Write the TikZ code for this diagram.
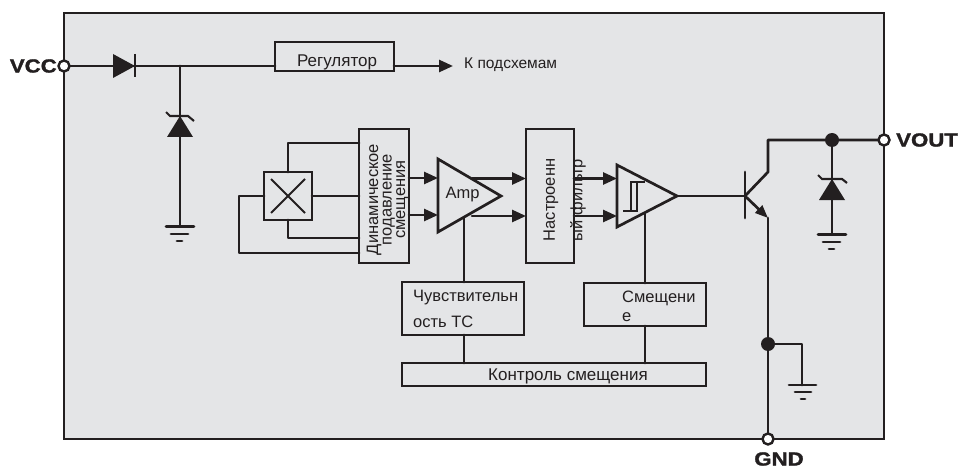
\documentclass[tikz,border=0pt]{standalone}
\usepackage{fontspec}
\setmainfont{Liberation Sans}
\newfontfamily\pinfont{Liberation Sans}[UprightFont=* Bold,FakeBold=1.5,FakeStretch=1.17]
\usetikzlibrary{arrows.meta}
\definecolor{ink}{HTML}{231F20}
\definecolor{panel}{HTML}{E4E5E7}
\tikzset{
  x=1pt,y=-1pt,
  wire/.style={draw=ink,line width=2.7pt,line cap=round,line join=round},
  thinwire/.style={draw=ink,line width=2.1pt},
  arrowwire/.style={wire,-{Triangle[length=14pt,width=12pt,fill=ink]}},
  blockbox/.style={draw=ink,line width=2.7pt,inner sep=0pt,outer sep=0pt,anchor=north west,align=left},
  lab/.style={font=\fontsize{16.5}{17}\selectfont,text=ink,inner sep=0pt},
  pin/.style={font=\fontsize{19}{19}\selectfont\pinfont,text=ink,inner sep=0pt},
  term/.style={circle,draw=ink,fill=white,line width=2.4pt,minimum size=11pt,inner sep=0pt},
  junction/.style={circle,fill=ink,minimum size=14pt,inner sep=0pt},
  solid tri/.style={fill=ink,draw=none},
}
\begin{document}
\begin{tikzpicture}
\useasboundingbox (0,0) rectangle (958,468);
\fill[white] (0,0) rectangle (958,468);
\draw[fill=panel,draw=ink,line width=2.8pt] (64,13) rectangle (884,439);

% blocks
\node[blockbox,minimum width=119pt,minimum height=29pt] (reg) at (275,42) {};
\node[blockbox,minimum width=48pt,minimum height=48pt] (hall) at (264,172) {};
\node[blockbox,minimum width=50pt,minimum height=134pt] (dyn) at (359,129) {};
\node[blockbox,minimum width=48pt,minimum height=134pt] (filt) at (526,129) {};
\node[blockbox,minimum width=122pt,minimum height=53pt] (tc) at (402,282) {};
\node[blockbox,minimum width=122pt,minimum height=43pt] (bias) at (584,283) {};
\node[blockbox,minimum width=304pt,minimum height=23pt] (ctl) at (402,363) {};

% block texts
\node[lab,font=\fontsize{17}{17}\selectfont] (regt) at (337,62) {Регулятор};
\node[lab,anchor=west,font=\fontsize{15.5}{17}\selectfont] (subt) at (464,65) {К подсхемам};
\node[lab,rotate=90,align=center,font=\fontsize{16.5}{13.5}\selectfont] (dynt) at (387.5,199.5) {Динамическое\\подавление\\смещения};
\node[lab,rotate=90] (filt1) at (551,200) {Настроенн};
\node[lab,rotate=90] (filt2) at (578,200) {ый фильтр};
\node[lab,anchor=west] (tc1) at (413,298) {Чувствительн};
\node[lab,anchor=west] (tc2) at (413,322) {ость ТС};
\node[lab,anchor=west] (bias1) at (622,298) {Смещени};
\node[lab,anchor=west] (bias2) at (622,317) {е};
\node[lab,font=\fontsize{17}{17}\selectfont] (ctlt) at (568,376) {Контроль смещения};

% terminals
\coordinate (vccp) at (64,66);
\coordinate (voutp) at (884,140);
\coordinate (gndp) at (768,439);
\node[pin,anchor=east] (vcct) at (57,66) {VCC};
\node[pin,anchor=west] (voutt) at (896,140) {VOUT};
\node[pin] (gndt) at (779,459) {GND};

% cross (Hall element)
\draw[thinwire] (hall.center) ++(-17,-17) -- ++(34,34) ++(0,-34) -- ++(-34,34);

% input rail
\coordinate (j1) at (180,66);
\coordinate (g1) at (180,226);
\draw[wire] (vccp) -- (reg.west |- vccp);
\fill[solid tri] (113,54) -- (113,78) -- (135,66) -- cycle;
\draw[thinwire] (135,54) -- (135,77);
\coordinate (out) at (453,66);
\draw[arrowwire] (reg.east |- vccp) -- (out);

% zener 1
\draw[wire] (j1) -- (g1);
\fill[solid tri] (167,137) -- (193,137) -- (180,116) -- cycle;
\draw[thinwire] (166,112) -- (170,116) -- (188,116) -- (194,121);
% ground 1
\draw[wire] (166,226.5) -- (194,226.5);
\draw[wire] (171,234) -- (188,234);
\draw[wire] (177,241) -- (182,241);

% hall wiring
\draw[wire] (288,172) |- (dyn.west |- 0,143);
\draw[wire] (hall.east) -- (dyn.west |- hall.east);
\draw[wire] (288,220) |- (dyn.west |- 0,238);
\draw[wire] (hall.west) -- (239,196) |- (dyn.west |- 0,253);

% amp
\coordinate (ampA) at (438,159);
\coordinate (ampB) at (438,232);
\coordinate (ampO) at (501,196);
\draw[draw=ink,line width=2.7pt,line join=miter] (ampA) -- (ampB) -- (ampO) -- cycle;
\node[lab] (ampt) at (462.5,195) {Amp};
\draw[arrowwire] (dyn.east |- 0,178) -- (ampA |- 0,178);
\draw[arrowwire] (dyn.east |- 0,215) -- (ampA |- 0,215);
\draw[arrowwire] (472,178.5) -- (filt.west |- 0,178.5);
\draw[arrowwire] (472,216) -- (filt.west |- 0,216);

% comparator
\coordinate (cmpA) at (617,165);
\coordinate (cmpB) at (617,227);
\coordinate (cmpO) at (677,196);
\draw[draw=ink,line width=2.7pt,line join=miter] (cmpA) -- (cmpB) -- (cmpO) -- cycle;
\draw[arrowwire] (filt.east |- 0,178.5) -- (cmpA |- 0,178.5);
\draw[arrowwire] (filt.east |- 0,216) -- (cmpA |- 0,216);
\draw[draw=ink,line width=1.6pt] (623,211) -- (637,211) -- (637,182) -- (645,182);
\draw[draw=ink,line width=1.6pt] (631,211) -- (631,182) -- (645,182);

% links to lower blocks
\draw[wire] (464,218) -- (464,282);
\draw[wire] (tc.south -| 464,0) -- (ctl.north -| 464,0);
\draw[wire] (645,213) -- (645,283);
\draw[wire] (bias.south -| 645,0) -- (ctl.north -| 645,0);

% transistor
\coordinate (tb) at (745,196);
\coordinate (tc0) at (768,172);
\coordinate (te) at (768,218);
\draw[wire] (cmpO) -- (tb);
\draw[wire] (745,172) -- (745,218);
\draw[wire] (tb) -- (tc0) -- (768,140) -- (voutp);
\draw[wire,-{Triangle[length=13pt,width=10pt,fill=ink]}] (tb) -- (te);
\draw[wire] (te) -- (gndp);

% zener 2
\coordinate (j2) at (832,140);
\draw[wire] (j2) -- (832,234);
\fill[solid tri] (819,200) -- (845,200) -- (832,179) -- cycle;
\draw[thinwire] (818,175) -- (822,179) -- (842,179) -- (847,183);
\draw[wire] (818,234.5) -- (846,234.5);
\draw[wire] (823,242) -- (840,242);
\draw[wire] (829,249) -- (834,249);

% ground 3
\coordinate (j3) at (768,344);
\draw[wire] (j3) -- (802,344) -- (802,385);
\draw[wire] (789,385) -- (816,385);
\draw[wire] (795,392) -- (811,392);
\draw[wire] (801,399) -- (805,399);

\node[junction] (jn2) at (j2) {};
\node[junction] (jn3) at (j3) {};
\node[term] (vcc) at (vccp) {};
\node[term] (vout) at (voutp) {};
\node[term] (gnd) at (gndp) {};
\end{tikzpicture}
\end{document}
